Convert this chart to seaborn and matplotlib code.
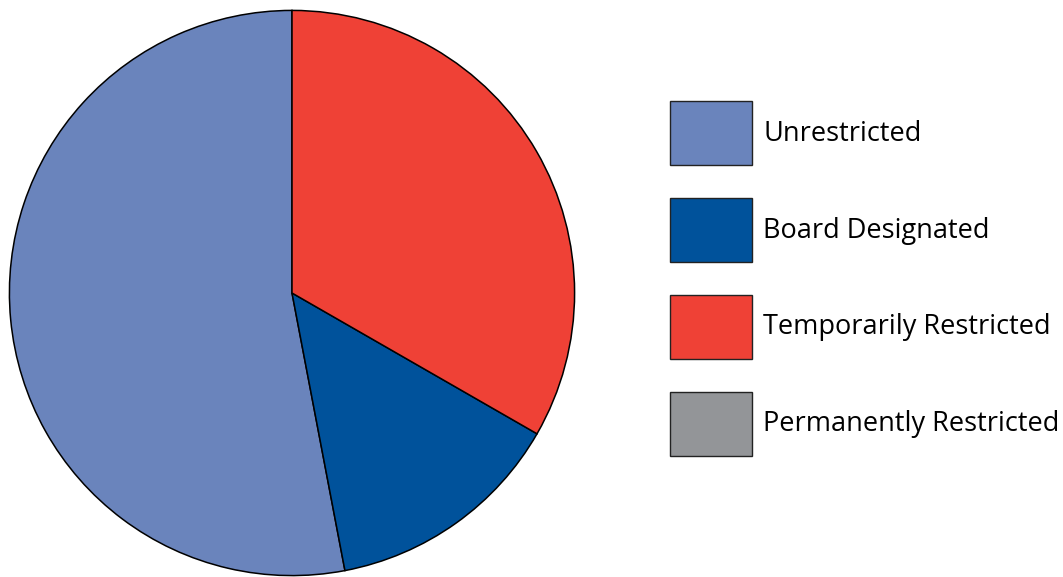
import matplotlib
matplotlib.use("Agg")
import matplotlib.pyplot as plt
import seaborn as sns
from matplotlib.patches import Patch

sns.set_theme(style="white")
plt.rcParams['font.family'] = ['Open Sans', 'DejaVu Sans']

categories = ["Unrestricted", "Board Designated", "Temporarily Restricted", "Permanently Restricted"]
values = [53.0, 13.7, 33.3, 0.0]
colors = ["#6A84BC", "#00529B", "#EF4136", "#939598"]

fig = plt.figure(figsize=(10.63, 5.77), dpi=100)
ax = fig.add_axes([8/1063, 0.0/577, 568/1063, 568/577])

shown = [(v, c) for v, c in zip(values, colors) if v > 0]
ax.pie([v for v, _ in shown], colors=[c for _, c in shown], startangle=90,
       counterclock=True, radius=1.0,
       wedgeprops=dict(edgecolor="black", linewidth=1.1))
ax.set_xlim(-1.005, 1.005)
ax.set_ylim(-1.005, 1.005)
ax.set_aspect("equal")
ax.axis("off")

handles = [Patch(facecolor=c, edgecolor="#222222", linewidth=1.0, label=l)
           for l, c in zip(categories, colors)]
fs = 19.5
leg = fig.legend(handles=handles, loc="upper left", bbox_to_anchor=(670/1063, 1 - 101/577),
                 frameon=False, fontsize=fs, handlelength=3.03, handleheight=3.25,
                 labelspacing=1.22, handletextpad=0.41, borderaxespad=0, borderpad=0)
for t in leg.get_texts():
    t.set_color("black")

fig.savefig("out.png", dpi=100)
